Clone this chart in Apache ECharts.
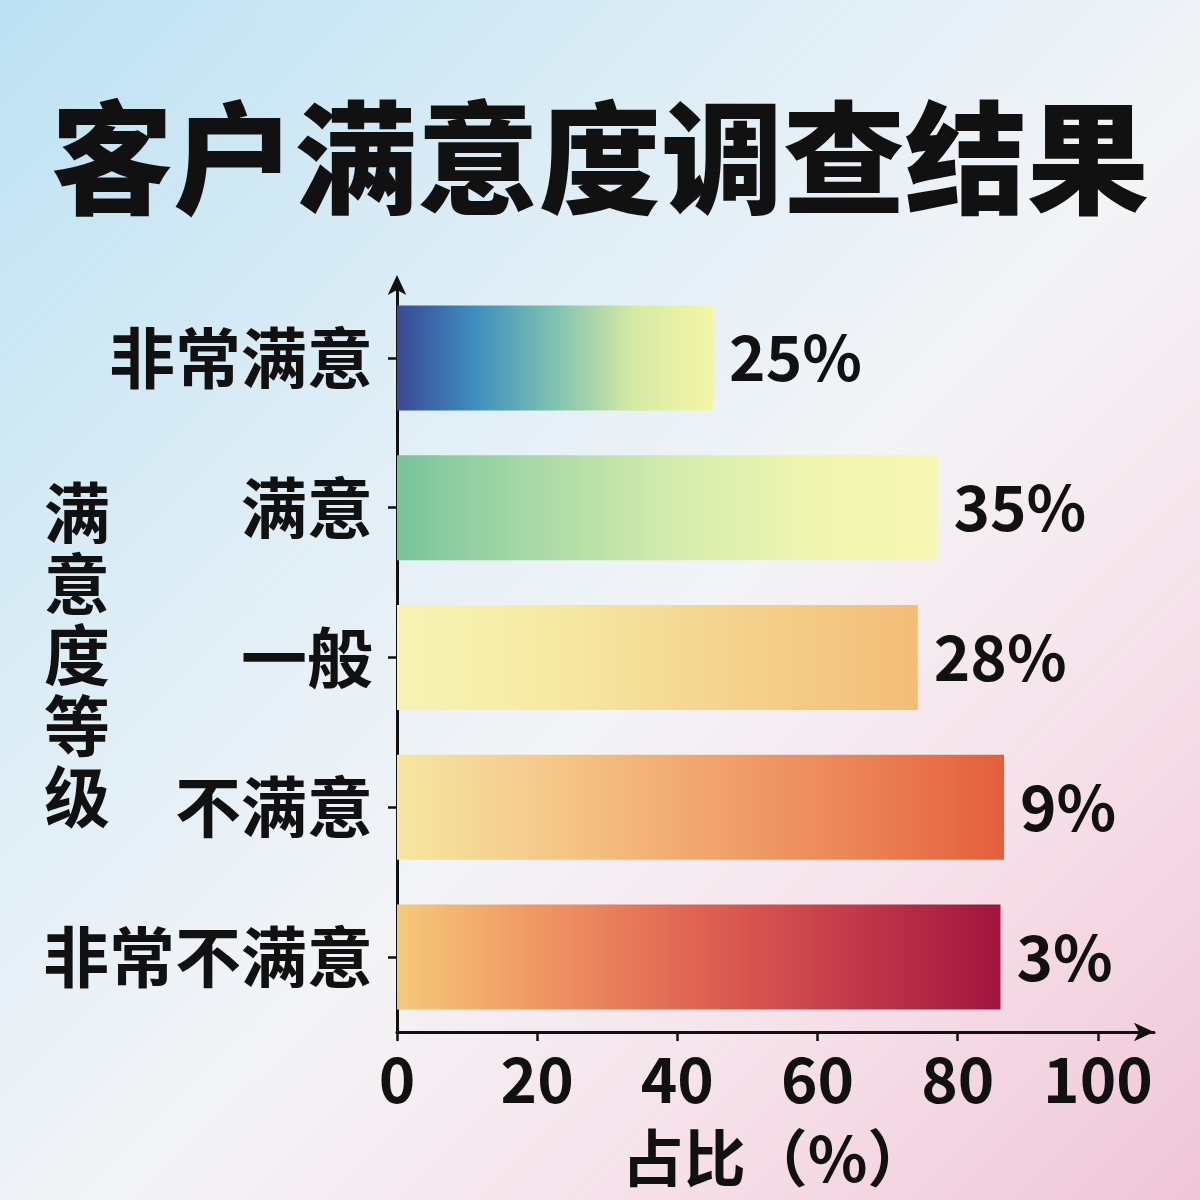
<!DOCTYPE html>
<html>
<head>
<meta charset="utf-8">
<script src="https://cdn.jsdelivr.net/npm/echarts@6/dist/echarts.min.js"></script>
<style>
  html, body { margin: 0; padding: 0; }
  body {
    width: 1200px; height: 1200px;
    background: linear-gradient(135deg, #bce1f3 0%, #dcedf6 30%, #f3f4f6 55%, #f6e2ea 75%, #f0c6d8 100%);
  }
  #chart { width: 1200px; height: 1200px; }
</style>
</head>
<body>
<div id="chart"></div>
<script>
// categories, top to bottom
const categories = ["非常满意", "满意", "一般", "不满意", "非常不满意"];
// bar lengths as drawn against the 0-100 axis
const barValues = [45.1, 77.1, 74.3, 86.6, 86.1];
// the text printed next to each bar
const pctLabels = ["25%", "35%", "28%", "9%", "3%"];
const xTicks = [0, 20, 40, 60, 80, 100];

const barColors = [
  ["#3a4796", "#3f8fbe", "#80c2b2", "#d6eaa4", "#f4f6a6"],
  ["#78c49c", "#a8d9a6", "#d2ebac", "#eef5b0", "#f6f6b2"],
  ["#f7f3b4", "#f6eca6", "#f5dc96", "#f4cc86", "#f3bd78"],
  ["#f5e6a2", "#f5c88a", "#f2a570", "#ec8458", "#e45e3e"],
  ["#f6c97a", "#ef9462", "#e06252", "#c33a4a", "#a1153e"],
];

const font = "Noto Sans CJK SC";

const chart = echarts.init(document.getElementById("chart"));

const data = barValues.map((v, i) => ({
  value: v,
  itemStyle: {
    color: new echarts.graphic.LinearGradient(0, 0, 1, 0,
      barColors[i].map((c, k) => ({ offset: k / (barColors[i].length - 1), color: c }))),
  },
}));

const option = {
  backgroundColor: "transparent",
  textStyle: { fontFamily: font },
  title: {
    text: "客户满意度调查结果",
    left: "center",
    top: 92,
    textStyle: { fontSize: 122, fontWeight: 900, color: "#111", fontFamily: font },
  },
  graphic: [
    {
      type: "text",
      x: 77,
      y: 655,
      style: {
        text: "满\n意\n度\n等\n级",
        font: "bold 66px '" + font + "'",
        fill: "#111",
        align: "center",
        verticalAlign: "middle",
        lineHeight: 71,
      },
    },
  ],
  grid: { left: 397, right: 46, top: 283, bottom: 168 },
  xAxis: {
    type: "value",
    min: 0,
    max: 108,
    interval: 20,
    name: "占比（%）",
    nameLocation: "middle",
    nameGap: 95,
    nameTextStyle: { fontSize: 62, fontWeight: "bold", color: "#111", fontFamily: font },
    splitLine: { show: false },
    axisLine: {
      show: true,
      lineStyle: { color: "#111", width: 3 },
      symbol: ["none", "arrow"],
      symbolSize: [14, 20],
    },
    axisTick: { show: true, length: 9, lineStyle: { color: "#111", width: 2.5 }, customValues: xTicks },
    axisLabel: {
      customValues: xTicks,
      margin: 16,
      fontSize: 62,
      fontWeight: "bold",
      color: "#111",
      fontFamily: font,
    },
  },
  yAxis: {
    type: "category",
    data: categories,
    inverse: true,
    axisLine: {
      show: true,
      lineStyle: { color: "#111", width: 3 },
      symbol: ["none", "arrow"],
      symbolSize: [14, 20],
      symbolOffset: [0, 8],
    },
    axisTick: { show: true, alignWithLabel: true, length: 9, lineStyle: { color: "#111", width: 2.5 } },
    axisLabel: {
      margin: 24,
      fontSize: 66,
      fontWeight: "bold",
      color: "#111",
      fontFamily: font,
    },
  },
  series: [
    {
      type: "bar",
      data: data,
      barWidth: 105,
      label: {
        show: true,
        position: "right",
        distance: 16,
        formatter: (p) => pctLabels[p.dataIndex],
        fontSize: 62,
        fontWeight: "bold",
        color: "#111",
        fontFamily: font,
      },
    },
  ],
};

chart.setOption(option);
</script>
</body>
</html>
